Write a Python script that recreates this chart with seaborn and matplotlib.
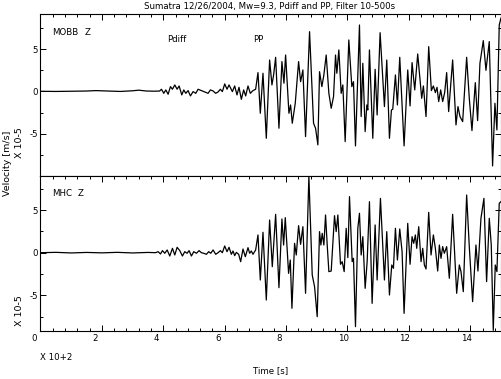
import numpy as np
import pandas as pd
import seaborn as sns
import matplotlib.pyplot as plt
from matplotlib.ticker import FixedLocator, MultipleLocator
from matplotlib.transforms import ScaledTranslation

sns.set_theme(style="ticks")
plt.rcParams['font.family'] = ['Liberation Sans Narrow', 'DejaVu Sans']
plt.rcParams['axes.unicode_minus'] = False

# time in units of 100 s, velocity in units of 1e-5 m/s
mobb_t = [0.0, 0.5, 1.0, 1.5, 1.8, 2.2, 2.6, 3.0, 3.2, 3.45, 3.7, 3.88,
          3.94, 4.016, 4.081, 4.157, 4.233, 4.298, 4.374, 4.450, 4.515, 4.602,
          4.667, 4.732, 4.807, 4.884, 4.970, 5.057, 5.133, 5.241, 5.350, 5.458,
          5.534, 5.621, 5.707, 5.783, 5.859, 5.924, 6.000, 6.076, 6.141,
          6.250, 6.325, 6.401, 6.466, 6.542, 6.618, 6.683, 6.759, 6.835, 6.921,
          7.008, 7.084, 7.160, 7.247, 7.355, 7.463, 7.539, 7.593, 7.659, 7.767,
          7.864, 7.930, 7.984, 8.092, 8.146, 8.201, 8.298, 8.407, 8.472, 8.547,
          8.634, 8.764, 8.894, 8.959, 9.035, 9.089, 9.165, 9.230, 9.306, 9.393,
          9.469, 9.545, 9.610, 9.653, 9.718, 9.794, 9.848, 9.924, 10.043, 10.141,
          10.195, 10.260, 10.390,
          10.445, 10.499, 10.575, 10.629, 10.661, 10.715, 10.824, 10.900, 10.965, 11.062,
          11.203, 11.279, 11.366, 11.431, 11.474, 11.561, 11.626, 11.702, 11.843, 11.962,
          12.038, 12.103, 12.190, 12.287, 12.417, 12.472, 12.558, 12.645, 12.732, 12.797,
          12.862, 12.916, 12.970, 13.035, 13.100, 13.165, 13.230, 13.295, 13.425, 13.534,
          13.599, 13.664, 13.751, 13.881, 13.967, 14.054, 14.163, 14.238, 14.314, 14.423,
          14.510, 14.618, 14.726, 14.802, 14.867, 14.943, 15.0]
mobb_v = [0.02, 0.0, 0.03, 0.05, 0.1, 0.05, 0.0, 0.08, 0.15, 0.05, 0.03, 0.05,
          0.26, -0.22, 0.18, -0.33, 0.57, 0.26, 0.77, 0.26, 0.65, -0.41,
          0.18, -0.22, 0.10, -0.53, -0.02, -0.22, 0.26, 0.10, -0.06, -0.22,
          0.18, 0.06, -0.22, -0.06, 0.26, -0.02, 0.89, 0.26, 0.77,
          -0.02, 0.65, -0.41, 0.49, -0.93, 0.18, -0.53, 0.65, -0.22, 0.10,
          0.26, 2.23, -2.58, 2.15, -5.54, 3.72, 0.77, 1.95, 4.04, -4.35,
          3.53, 0.97, 4.31, -2.58, -1.60, -3.76, -1.40, 3.53, 1.16, 2.54,
          -5.34, 7.07, -3.76, -4.35, -6.32, 2.34, 0.57, 1.95, 4.31, -0.22,
          -1.99, -0.61, 4.31, 2.15, 4.91, -0.22, 0.77, -5.93, 6.09, 0.57,
          1.16, -6.44, 7.86,
          -2.97, 3.33, -4.75, -1.60, -2.19, 4.91, -5.54, 2.62, -2.78, 6.95,
          -1.79, 3.72, -5.54, -2.19, -2.11, 1.95, -1.60, 4.04, -6.44, 2.54,
          -1.71, 3.41, 0.18, 4.43, -0.81, 0.65, -2.97, 5.30, 0.10, 0.65,
          -0.14, 0.49, -1.20, 0.18, -1.20, -0.14, 2.23, -2.38, 3.72, -3.96,
          -1.79, -2.97, -3.57, 4.04, -0.81, -4.63, 1.04, -3.45, 3.33, 6.01,
          2.5, 5.9, -8.81, -1.40, -4.55, 7.86, 8.7]

mhc_t = [0.0, 0.5, 1.0, 1.5, 2.0, 2.5, 3.0, 3.5, 3.75,
         3.832, 3.908, 3.973, 4.049, 4.125, 4.211, 4.298, 4.374, 4.450, 4.537,
         4.623, 4.699, 4.775, 4.840, 4.916, 4.992, 5.079, 5.165, 5.241, 5.317,
         5.404, 5.480, 5.545, 5.621, 5.707, 5.783, 5.859, 5.924, 6.000, 6.076, 6.141,
         6.217, 6.271, 6.325, 6.379, 6.455, 6.520, 6.596, 6.672, 6.759, 6.813,
         6.867, 6.921, 7.008, 7.084, 7.160, 7.247, 7.355, 7.463, 7.550, 7.659,
         7.767, 7.864, 7.919, 7.973, 8.081, 8.136, 8.190, 8.276, 8.331, 8.407,
         8.472, 8.547, 8.634, 8.742, 8.851, 8.927, 9.013, 9.089, 9.133, 9.176,
         9.230, 9.285, 9.339, 9.393, 9.469, 9.577, 9.631, 9.686, 9.772, 9.827,
         9.892, 9.957, 10.011, 10.065, 10.152, 10.195, 10.260, 10.336,
         10.390, 10.445, 10.499, 10.575, 10.640, 10.715, 10.802, 10.900, 10.965, 11.073,
         11.203, 11.279, 11.366, 11.442, 11.496, 11.561, 11.626, 11.702, 11.778, 11.843,
         11.962, 12.038, 12.103, 12.157, 12.211, 12.255, 12.320, 12.396, 12.450, 12.504,
         12.558, 12.645, 12.721, 12.797, 12.862, 12.938, 12.992, 13.046, 13.100, 13.154,
         13.230, 13.317, 13.425, 13.556, 13.642, 13.697, 13.772, 13.881, 13.967, 14.076,
         14.184, 14.249, 14.347, 14.444, 14.531, 14.618, 14.683, 14.748, 14.813, 14.867,
         14.943, 15.0]
mhc_v = [0.0, 0.04, -0.03, 0.03, -0.02, 0.04, -0.03, 0.03, 0.0,
         0.12, -0.15, 0.24, -0.07, 0.32, -0.39, 0.51, -0.27, 0.63, 0.24,
         -0.39, 0.12, -0.07, 0.24, -0.39, 0.12, -0.07, 0.24, 0.0, -0.07,
         -0.19, 0.12, -0.07, 0.32, -0.19, 0.0, 0.24, 0.0, 0.79, 0.12, 0.63,
         -0.19, 0.20, -0.35, 0.04, -0.19, -1.05, 0.43, -0.47, 0.59, -0.07,
         0.20, -0.19, 0.32, 2.08, -3.20, 2.39, -5.55, 3.83, -1.64, 4.50,
         -4.10, 3.95, 0.90, 4.11, -2.42, -0.86, -6.52, 1.10, -0.27, 3.17,
         0.98, 3.05, -4.76, 8.95, -2.61, -3.98, -7.50, 2.47, 0.90, 2.27,
         0.90, 4.42, 0.90, -2.22, -2.15, 4.34, 2.47, 4.42, -1.36, -1.05,
         -2.22, 2.86, -0.58, 6.57, -1.05, -0.66, -8.67, 2.86,
         4.62, -0.27, 1.88, -4.18, -1.05, 5.98, -5.94, 3.25, -3.20, 6.37,
         -3.20, 2.47, -4.96, -1.44, -1.83, 2.86, -0.86, 2.78, 0.12, -7.11,
         3.44, -1.36, 1.88, 1.10, 2.08, 0.51, 3.05, -1.05, 0.51, -1.44,
         -1.91, 4.73, -0.27, 2.08, 0.51, -2.15, 0.90, -0.66, 0.71, -0.07,
         0.71, -3.00, 4.50, -4.76, -1.44, -2.22, -4.57, 6.76, 0.71, -5.74,
         0.90, -2.15, 4.03, 6.37, -3.40, 4.03, 0.90, -9.1, -1.44, -2.22,
         5.79, 6.0]

x_ticks = [0, 2, 4, 6, 8, 10, 12, 14]
y_ticks = [-5, 0, 5]
y_minor = [-7.5, -2.5, 2.5, 7.5]

W, H = 502, 379
FS = 6.2
fig = plt.figure(figsize=(W / 100, H / 100), dpi=100)


def box(l, t, r, b):
    return [l / W, 1 - b / H, (r - l) / W, (b - t) / H]


def put(x, y, s, **kw):
    kw.setdefault('va', 'center')
    kw.setdefault('fontsize', FS)
    fig.text(x / W, 1 - y / H, s, color='black', **kw)


ax1 = fig.add_axes(box(40.5, 14, 501, 176))
ax2 = fig.add_axes(box(40.5, 176, 501, 331))

panels = [(ax1, mobb_t, mobb_v, (-10.0, 9.16)),
          (ax2, mhc_t, mhc_v, (-9.18, 8.99))]
for ax, t, v, ylim in panels:
    sns.lineplot(x=t, y=v, ax=ax, color='black', lw=0.9,
                 estimator=None, sort=False)
    ax.set_xlim(0, 15)
    ax.set_ylim(ylim)
    ax.set_xticks(x_ticks)
    ax.xaxis.set_minor_locator(MultipleLocator(0.4))
    ax.set_yticks(y_ticks)
    ax.yaxis.set_minor_locator(FixedLocator(y_minor))
    ax.set_xlabel('')
    ax.set_ylabel('')
    ax.tick_params(which='both', direction='in', top=True, right=True,
                   colors='black', labelsize=FS, width=0.7)
    ax.tick_params(which='major', length=4, pad=2)
    ax.tick_params(which='minor', length=2.2)
    for s in ax.spines.values():
        s.set_linewidth(0.8)
        s.set_color('black')

ax1.tick_params(which='both', bottom=False, labelbottom=False)

# x tick labels start a little left of their ticks
shift = ScaledTranslation(-0.095, 0, fig.dpi_scale_trans)
for lab in ax2.get_xticklabels():
    lab.set_horizontalalignment('left')
    lab.set_transform(lab.get_transform() + shift)

put(270, 7, 'Sumatra 12/26/2004, Mw=9.3, Pdiff and PP, Filter 10-500s', ha='center')
put(52, 32.5, 'MOBB', ha='left')
put(85, 32.5, 'Z', ha='left')
put(167, 39.5, 'Pdiff', ha='left')
put(253, 39, 'PP', ha='left')
put(52, 194, 'MHC', ha='left')
put(78, 194, 'Z', ha='left')
put(8, 163, 'Velocity [m/s]', ha='center', rotation=90, fontsize=6.8)
put(20, 143, 'X 10-5', ha='center', rotation=90, fontsize=6.8)
put(20, 311, 'X 10-5', ha='center', rotation=90, fontsize=6.8)
put(40, 357, 'X 10+2', ha='left')
put(271, 371, 'Time [s]', ha='center')

fig.savefig('out.png', dpi=100, facecolor='white')
